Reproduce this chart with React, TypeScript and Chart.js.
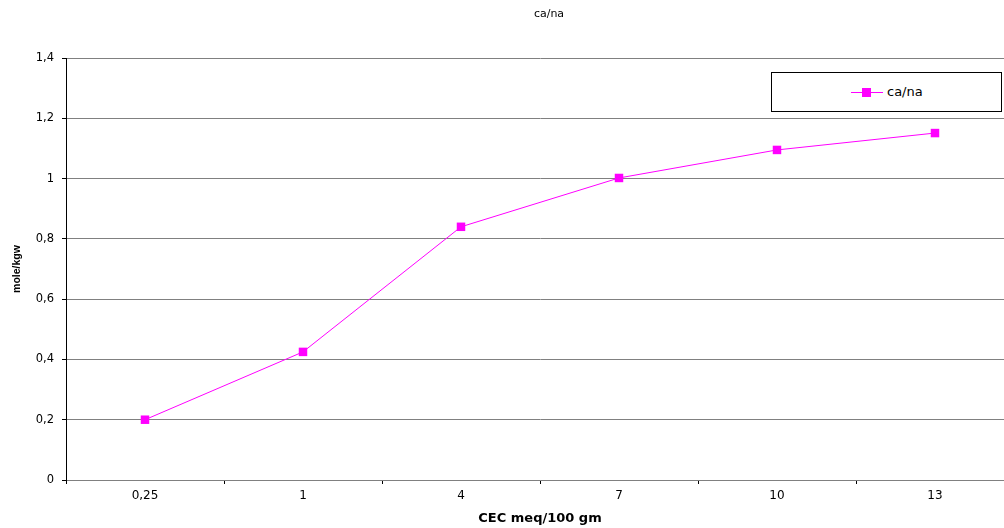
import React, { useEffect, useRef } from "react";
import { Chart, registerables } from "chart.js";

Chart.register(...registerables);

const categories = ["0,25", "1", "4", "7", "10", "13"];
const caNaValues = [0.2, 0.425, 0.84, 1.002, 1.095, 1.151];
const seriesName = "ca/na";
const chartTitle = "ca/na";
const xAxisTitle = "CEC meq/100 gm";
const yAxisTitle = "mole/kgw";
const yMin = 0;
const yMax = 1.4;
const yStep = 0.2;

const MAGENTA = "#FF00FF";
const FONT = "'DejaVu Sans', Arial, sans-serif";

export default function App() {
  const ref = useRef<HTMLCanvasElement>(null);

  useEffect(() => {
    if (!ref.current) return;
    const chart = new Chart(ref.current, {
      type: "line",
      data: {
        labels: categories,
        datasets: [
          {
            label: seriesName,
            data: caNaValues,
            borderColor: MAGENTA,
            backgroundColor: MAGENTA,
            borderWidth: 1,
            pointStyle: "rect",
            pointRadius: 6,
            pointBorderWidth: 0,
            pointBackgroundColor: MAGENTA,
            tension: 0,
          },
        ],
      },
      options: {
        responsive: false,
        animation: false,
        layout: { padding: { left: 0, right: 84, top: 58, bottom: 0 } },
        plugins: {
          legend: { display: false },
          tooltip: { enabled: false },
          title: { display: false },
        },
        scales: {
          x: {
            type: "category",
            offset: true,
            grid: {
              display: true,
              offset: true,
              drawOnChartArea: false,
              drawTicks: true,
              tickLength: 4,
              color: "#000",
            },
            border: { display: true, color: "#808080", width: 1 },
            ticks: {
              color: "#000",
              font: { family: FONT, size: 12 },
              padding: 5,
              maxRotation: 0,
              autoSkip: false,
            },
            title: {
              display: true,
              text: xAxisTitle,
              color: "#000",
              font: { family: FONT, size: 13, weight: "bold" },
              padding: { top: 0, bottom: 2 },
            },
            afterFit: (scale: any) => {
              scale.height = 48;
            },
          },
          y: {
            min: yMin,
            max: yMax,
            grid: {
              color: "#808080",
              lineWidth: 1,
              drawTicks: true,
              tickLength: 4,
              tickColor: "#000",
            },
            border: { display: true, color: "#000", width: 1 },
            ticks: {
              stepSize: yStep,
              color: "#000",
              font: { family: FONT, size: 11.5 },
              padding: 8,
              callback: (v: any) =>
                String(Math.round(Number(v) * 10) / 10).replace(".", ","),
            },
            title: {
              display: true,
              text: yAxisTitle,
              color: "#000",
              font: { family: "'Liberation Sans', Arial, sans-serif", size: 10.5, weight: "bold" },
              padding: { top: 11, bottom: 0 },
            },
            afterFit: (scale: any) => {
              scale.width = 66;
            },
          },
        },
      },
    });
    return () => chart.destroy();
  }, []);

  return (
    <div
      style={{
        position: "fixed",
        left: 0,
        top: 0,
        width: 1004,
        height: 528,
        overflow: "hidden",
        background: "#fff",
      }}
    >
      <canvas ref={ref} width={1098} height={528} style={{ display: "block" }} />
      <div
        style={{
          position: "absolute",
          left: 449,
          width: 200,
          top: 6,
          textAlign: "center",
          fontFamily: FONT,
          fontSize: 11,
          lineHeight: "16px",
          color: "#000",
        }}
      >
        {chartTitle}
      </div>
      <div
        style={{
          position: "absolute",
          left: 771,
          top: 72,
          width: 229,
          height: 38,
          border: "1px solid #000",
          background: "#fff",
          boxSizing: "content-box",
        }}
      >
        <div
          style={{
            position: "absolute",
            left: 79,
            top: 19,
            width: 32,
            height: 1,
            background: MAGENTA,
          }}
        />
        <div
          style={{
            position: "absolute",
            left: 90,
            top: 15,
            width: 9,
            height: 9,
            background: MAGENTA,
          }}
        />
        <span
          style={{
            position: "absolute",
            left: 115,
            top: 11,
            fontFamily: FONT,
            fontSize: 13,
            lineHeight: "16px",
            color: "#000",
            whiteSpace: "nowrap",
          }}
        >
          {seriesName}
        </span>
      </div>
    </div>
  );
}
